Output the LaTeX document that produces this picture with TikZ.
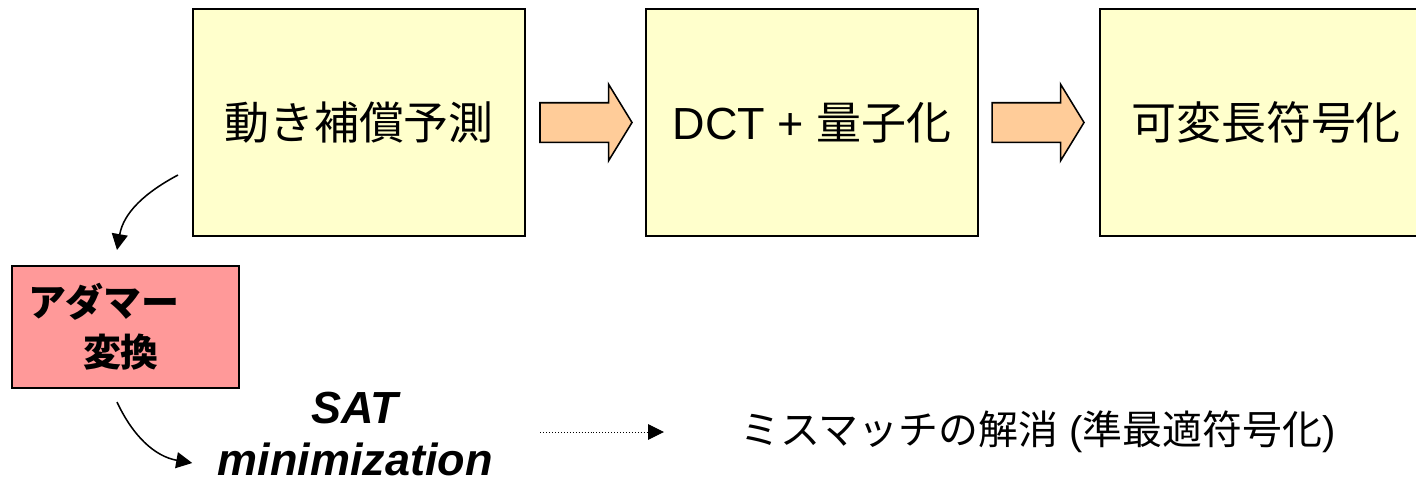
\documentclass[tikz,border=0pt]{standalone}
\usepackage{fontspec}
\setmainfont{Liberation Sans}
\newfontfamily\jp{Noto Sans CJK JP}
\usetikzlibrary{arrows.meta, positioning, shapes.arrows}
\definecolor{vcyellow}{HTML}{FFFFCC}
\definecolor{vcpink}{HTML}{FF9999}
\definecolor{vcorange}{HTML}{FFCC99}
\tikzset{
  stage/.style={rectangle, draw=black, line width=1.1pt, fill=vcyellow, minimum width=8.3cm,
    minimum height=5.675cm, outer sep=0pt, font=\fontsize{32}{38}\selectfont, align=center},
  hadbox/.style={rectangle, draw=black, line width=1.1pt, fill=vcpink, minimum height=3.05cm,
    text width=4.875cm, inner xsep=0.4cm, align=left, outer sep=0pt,
    font=\fontsize{27}{35.5}\selectfont\jp\bfseries},
  blockarr/.style={single arrow, draw=black, line width=1.1pt, fill=vcorange, minimum height=2.3cm,
    single arrow head extend=0.4625cm, single arrow tip angle=117,
    inner xsep=0pt, inner ysep=0.475cm, outer sep=0pt},
  arr/.style={-{Triangle[length=0.4cm, width=0.4cm]}, line width=1.1pt},
  dotarr/.style={-{Triangle[length=0.4cm, width=0.39cm]}, line width=0.7pt, dash pattern=on 0.7pt off 1.4pt},
  lbl/.style={inner sep=0pt, align=center},
}
\begin{document}
\begin{tikzpicture}
  \useasboundingbox (0,0) rectangle (35.4,-11.95);
  \node[stage] (mc) at (8.975,-3.0625) {{\jp 動き補償予測}};
  \node[stage, right=3.025cm of mc] (dct) {DCT + {\jp 量子化}};
  \node[stage, right=3.05cm of dct] (vlc) {{\jp 可変長符号化}};
  \node[blockarr, right=0.375cm of mc] (a1) {};
  \node[blockarr, right=0.35cm of dct] (a2) {};
  \node[hadbox, below=0.75cm of mc.south west, xshift=-1.6875cm] (had) {アダマー\\\hspace*{1.375cm}変換};
  \node[lbl, font=\fontsize{32}{37}\selectfont\bfseries\itshape] (sat) at (8.875,-10.85) {SAT\\minimization};
  \node[lbl, font=\fontsize{28.4}{34}\selectfont] (mis) at (25.95,-10.8) {{\jp ミスマッチの解消} ({\jp 準最適符号化})};
  \draw[arr] ([shift={(-0.375,-1.3125)}]mc.west) to[out=208, in=80] ([shift={(-0.2125,0.4)}]had.north);
  \draw[arr] ([shift={(-0.2125,-0.35)}]had.south) to[out=-65, in=170] ([shift={(-0.625,-0.725)}]sat.west);
  \draw[dotarr, shorten <=1.19cm, shorten >=1.9cm] (sat.east |- mis.west) -- (mis.west);
\end{tikzpicture}
\end{document}
